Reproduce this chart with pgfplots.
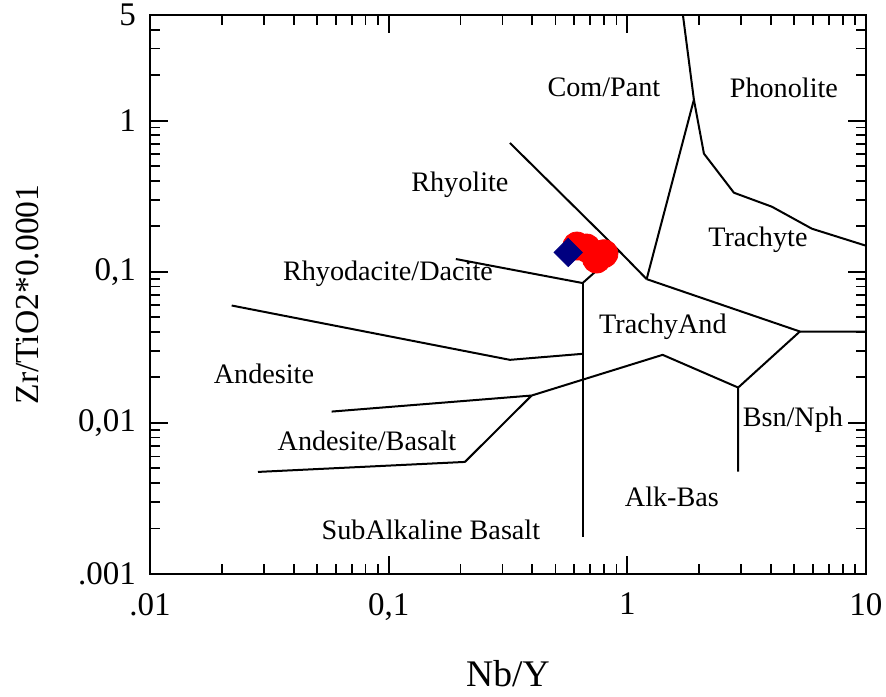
\documentclass[border=0pt]{standalone}
\usepackage{fontspec}
\setmainfont{Liberation Serif}
\usepackage{pgfplots}
\pgfplotsset{compat=1.18}
\definecolor{navyblue}{RGB}{0,0,128}
\begin{document}
\begin{tikzpicture}
\begin{axis}[
  xmode=log, ymode=log,
  width=358pt, height=279.5pt, scale only axis,
  xmin=0.01, xmax=10, ymin=0.001, ymax=5,
  xtick={0.01,0.1,1,10}, xticklabels={.01,{0,1},1,10},
  ytick={0.001,0.01,0.1,1}, yticklabels={.001,{0,01},{0,1},1},
  extra y ticks={5}, extra y tick labels={5},
  extra y tick style={major tick length=0pt},
  minor xtick={0.02,0.03,0.04,0.05,0.06,0.07,0.08,0.09,
               0.2,0.3,0.4,0.5,0.6,0.7,0.8,0.9,2,3,4,5,6,7,8,9},
  minor ytick={0.002,0.003,0.004,0.005,0.006,0.007,0.008,0.009,
               0.02,0.03,0.04,0.05,0.06,0.07,0.08,0.09,
               0.2,0.3,0.4,0.5,0.6,0.7,0.8,0.9,2,3,4},
  tick align=inside, tick pos=both,
  major tick length=9pt, minor tick length=5pt,
  every tick/.style={black, line width=0.9pt},
  axis line style={line width=1.2pt},
  /pgf/number format/assume math mode=true,
  ticklabel style={font=\fontsize{16.5}{18}\selectfont},
  xticklabel style={yshift=-6pt},
  yticklabel style={xshift=-3.5pt},
  xlabel={Nb/Y}, ylabel={Zr/TiO2*0.0001},
  xlabel style={font=\fontsize{18.8}{20}\selectfont, at={(axis description cs:0.5,-0.179)}, anchor=center},
  ylabel style={font=\fontsize{16.8}{18}\selectfont, at={(axis description cs:-0.171,0.5)}, anchor=center},
]
% field boundaries
\addplot[black, line width=1pt] coordinates {(0.3222,0.7115) (0.9222,0.1377) (1.205,0.0894)};
\addplot[black, line width=1pt] coordinates {(1.205,0.0894) (1.901,1.377) (1.710,5)};
\addplot[black, line width=1pt] coordinates {(1.901,1.377) (2.094,0.605) (2.797,0.3334) (4.035,0.2694) (5.934,0.1927) (10,0.1487)};
\addplot[black, line width=1pt] coordinates {(1.205,0.0894) (5.285,0.04024) (10,0.04024)};
\addplot[black, line width=1pt] coordinates {(5.285,0.04024) (2.914,0.01713) (2.914,0.004759)};
\addplot[black, line width=1pt] coordinates {(0.3972,0.01517) (1.406,0.02820) (2.914,0.01713)};
\addplot[black, line width=1pt] coordinates {(0.05771,0.01188) (0.3972,0.01517)};
\addplot[black, line width=1pt] coordinates {(0.02835,0.004737) (0.2087,0.005517) (0.3972,0.01517)};
\addplot[black, line width=1pt] coordinates {(0.02199,0.0598) (0.3222,0.02613) (0.6497,0.02864)};
\addplot[black, line width=1pt] coordinates {(0.6497,0.0842) (0.6497,0.001758)};
\addplot[black, line width=1pt] coordinates {(0.1913,0.1214) (0.6497,0.0842) (0.9222,0.1377)};
% samples
\addplot[only marks, mark=*, mark size=7pt, color=red, mark options={draw=red, fill=red}]
  coordinates {(0.615,0.148) (0.675,0.1436) (0.798,0.1316) (0.7437,0.1214)};
\addplot[only marks, mark=square*, mark size=5pt, color=navyblue, mark options={rotate=45, draw=navyblue, fill=navyblue}]
  coordinates {(0.5653,0.1342)};
% field names
\begin{scope}[every node/.style={font=\fontsize{14.1}{15}\selectfont}]
\node at (axis cs:0.798,1.654) {Com/Pant};
\node at (axis cs:4.53,1.654) {Phonolite};
\node at (axis cs:0.1989,0.377) {Rhyolite};
\node at (axis cs:3.525,0.1629) {Trachyte};
\node at (axis cs:0.0993,0.0970) {Rhyodacite/Dacite};
\node at (axis cs:1.41,0.04323) {TrachyAnd};
\node at (axis cs:0.03003,0.02111) {Andesite};
\node at (axis cs:0.0811,0.0076) {Andesite/Basalt};
\node at (axis cs:4.94,0.01047) {Bsn/Nph};
\node at (axis cs:1.538,0.003235) {Alk-Bas};
\node at (axis cs:0.1503,0.001956) {SubAlkaline Basalt};
\end{scope}
\end{axis}
\pgfresetboundingbox
\path ([xshift=-75pt,yshift=-61.5pt]current axis.south west) rectangle ([xshift=10pt,yshift=7.5pt]current axis.north east);
\end{tikzpicture}
\end{document}
